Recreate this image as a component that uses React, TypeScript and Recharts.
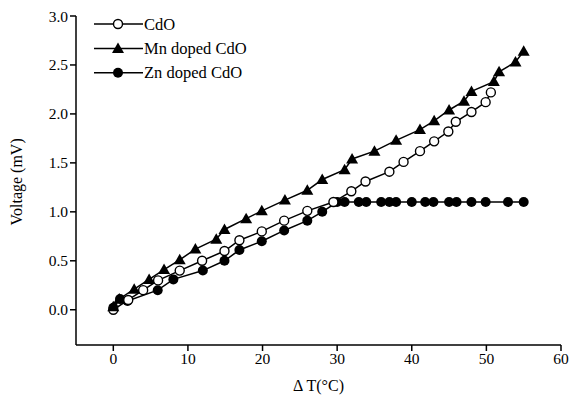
import { Line, LineChart, XAxis, YAxis } from 'recharts'

// ΔT (°C) readings and measured voltage (mV) for each sample
const cdoT = [0, 2, 4, 6, 8.9, 11.9, 14.9, 16.9, 19.9, 22.9, 26, 29.5, 31.9, 33.8, 37, 38.9, 41.1, 43, 44.9, 45.9, 48, 49.9, 50.6]
const cdoV = [0, 0.1, 0.2, 0.3, 0.4, 0.5, 0.6, 0.71, 0.8, 0.91, 1.01, 1.1, 1.21, 1.31, 1.41, 1.51, 1.62, 1.72, 1.82, 1.92, 2.02, 2.12, 2.22]

const mnT = [0, 0.8, 2.8, 4.8, 6.8, 8.9, 11, 13.8, 14.9, 17.8, 19.9, 23, 26, 28, 31, 32, 35, 37.9, 41.1, 43, 45, 47, 48, 51, 51.7, 53.9, 55]
const mnV = [0.03, 0.11, 0.21, 0.31, 0.41, 0.51, 0.62, 0.72, 0.82, 0.93, 1.01, 1.12, 1.22, 1.33, 1.43, 1.54, 1.62, 1.73, 1.84, 1.93, 2.04, 2.13, 2.23, 2.33, 2.43, 2.53, 2.64]

const znT = [0, 0.9, 1.9, 5.95, 8.05, 12, 14.9, 16.9, 19.9, 22.9, 26, 28, 30, 31, 32.9, 33.9, 35.9, 37, 37.9, 40, 41.8, 42.9, 45, 46, 48, 49.9, 52.9, 55]
const znV = [0.02, 0.11, 0.09, 0.2, 0.31, 0.4, 0.5, 0.61, 0.7, 0.81, 0.91, 1.0, 1.1, 1.1, 1.1, 1.1, 1.1, 1.1, 1.1, 1.1, 1.1, 1.1, 1.1, 1.1, 1.1, 1.1, 1.1, 1.1]

const xTicks = [0, 10, 20, 30, 40, 50, 60]
const yTicks = [0, 0.5, 1, 1.5, 2, 2.5, 3]

const seriesNames = ['CdO', 'Mn doped CdO', 'Zn doped CdO']

const toPoints = (xs: number[], ys: number[]) => xs.map((x, i) => ({ x, y: ys[i] }))

const font = 'Liberation Serif, Times New Roman, serif'

type DotProps = { cx?: number; cy?: number; index?: number }

function OpenDot({ cx, cy, index }: DotProps) {
  if (cx == null || cy == null) return null
  return <circle key={index} cx={cx} cy={cy} r={4.5} fill="#fff" stroke="#000" strokeWidth={1.4} />
}

function FilledDot({ cx, cy, index }: DotProps) {
  if (cx == null || cy == null) return null
  return <circle key={index} cx={cx} cy={cy} r={5} fill="#000" />
}

function TriangleDot({ cx, cy, index }: DotProps) {
  if (cx == null || cy == null) return null
  const s = 6
  return <path key={index} d={`M${cx},${cy - s} L${cx + s},${cy + s * 0.75} L${cx - s},${cy + s * 0.75} Z`} fill="#000" />
}

// legend drawn on top of the plot, upper left
function LegendBox() {
  const markers = [
    <circle cx={24} cy={0} r={4.5} fill="#fff" stroke="#000" strokeWidth={1.4} />,
    <path d="M24,-6 L30,4.5 L18,4.5 Z" fill="#000" />,
    <circle cx={24} cy={0} r={5} fill="#000" />,
  ]
  return (
    <svg width={210} height={80} style={{ position: 'absolute', left: 94, top: 12 }}>
      {seriesNames.map((name, i) => (
        <g key={name} transform={`translate(0, ${12 + i * 24.4})`}>
          <line x1={0} x2={49} y1={0} y2={0} stroke="#000" strokeWidth={1.5} />
          {markers[i]}
          <text x={50} y={5.5} fontFamily={font} fontSize={16.5} fill="#000">
            {name}
          </text>
        </g>
      ))}
    </svg>
  )
}

export default function App() {
  return (
    <div style={{ position: 'absolute', left: 0, top: 0, width: 571, height: 400, background: '#fff' }}>
      <LineChart width={571} height={400} margin={{ top: 16, right: 10, bottom: 5, left: 16 }}>
        <XAxis
          type="number"
          dataKey="x"
          domain={[-5, 60]}
          ticks={xTicks}
          allowDataOverflow
          stroke="#000"
          strokeWidth={1.5}
          tickSize={6}
          height={50}
          tick={{ fill: '#000', fontSize: 15.5, fontFamily: font }}
          label={{ value: 'Δ T(°C)', position: 'insideBottom', offset: 4, fill: '#000', fontSize: 16, fontFamily: font }}
        />
        <YAxis
          type="number"
          dataKey="y"
          domain={[-0.36, 3]}
          ticks={yTicks}
          allowDataOverflow
          stroke="#000"
          strokeWidth={1.5}
          tickSize={6}
          width={60}
          tickFormatter={(v: number) => v.toFixed(1)}
          tick={{ fill: '#000', fontSize: 15.5, fontFamily: font }}
          label={{ value: 'Voltage (mV)', angle: -90, position: 'insideLeft', offset: 0, dy: 45, fill: '#000', fontSize: 16, fontFamily: font }}
        />
        <Line
          name="Zn doped CdO"
          data={toPoints(znT, znV)}
          dataKey="y"
          stroke="#000"
          strokeWidth={1.5}
          dot={FilledDot}
          isAnimationActive={false}
        />
        <Line
          name="CdO"
          data={toPoints(cdoT, cdoV)}
          dataKey="y"
          stroke="#000"
          strokeWidth={1.5}
          dot={OpenDot}
          isAnimationActive={false}
        />
        <Line
          name="Mn doped CdO"
          data={toPoints(mnT, mnV)}
          dataKey="y"
          stroke="#000"
          strokeWidth={1.5}
          dot={TriangleDot}
          isAnimationActive={false}
        />
      </LineChart>
      <LegendBox />
    </div>
  )
}
